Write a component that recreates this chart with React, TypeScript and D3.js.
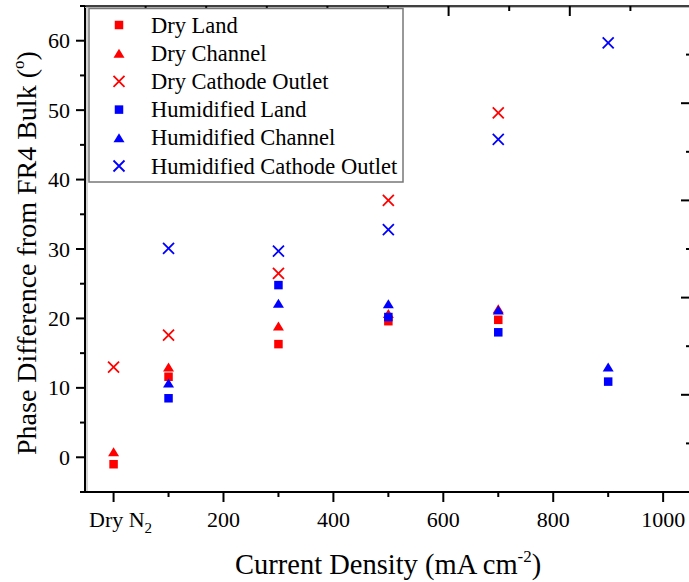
import React from "react";
import * as d3 from "d3";

const dryX = [0, 100, 300, 500, 700];
const humX = [100, 300, 500, 700, 900];
const dryLand = [-1.0, 11.6, 16.3, 19.6, 19.8];
const dryChannel = [0.8, 13.0, 18.9, 20.7, 21.4];
const dryCathode = [13.0, 17.6, 26.5, 37.0, 49.6];
const humLand = [8.5, 24.8, 20.2, 18.0, 10.9];
const humChannel = [10.7, 22.2, 22.1, 21.2, 13.0];
const humCathode = [30.1, 29.7, 32.8, 45.8, 59.7];

const seriesNames = [
  "Dry Land",
  "Dry Channel",
  "Dry Cathode Outlet",
  "Humidified Land",
  "Humidified Channel",
  "Humidified Cathode Outlet",
];
const xMajorTicks = [0, 200, 400, 600, 800, 1000];
const xMinorTicks = [100, 300, 500, 700, 900];
const yMajorTicks = [0, 10, 20, 30, 40, 50, 60];
const yMinorTicks = [-5, 5, 15, 25, 35, 45, 55, 65];

const RED = "#ff0000";
const BLUE = "#0000ff";
const FONT = "'Liberation Serif', 'Times New Roman', serif";

type Shape = "square" | "triangle" | "cross";

const series: { name: string; xs: number[]; ys: number[]; color: string; shape: Shape }[] = [
  { name: seriesNames[0], xs: dryX, ys: dryLand, color: RED, shape: "square" },
  { name: seriesNames[1], xs: dryX, ys: dryChannel, color: RED, shape: "triangle" },
  { name: seriesNames[2], xs: dryX, ys: dryCathode, color: RED, shape: "cross" },
  { name: seriesNames[3], xs: humX, ys: humLand, color: BLUE, shape: "square" },
  { name: seriesNames[4], xs: humX, ys: humChannel, color: BLUE, shape: "triangle" },
  { name: seriesNames[5], xs: humX, ys: humCathode, color: BLUE, shape: "cross" },
];

function Marker({ x, y, shape, color }: { x: number; y: number; shape: Shape; color: string }) {
  if (shape === "square") {
    const s = 8.5;
    return <rect x={x - s / 2} y={y - s / 2} width={s} height={s} fill={color} />;
  }
  if (shape === "triangle") {
    const w = 11, h = 9;
    return (
      <path
        d={`M${x},${y - h / 2}L${x + w / 2},${y + h / 2}L${x - w / 2},${y + h / 2}Z`}
        fill={color}
      />
    );
  }
  const r = 5.5;
  return (
    <path
      d={`M${x - r},${y - r}L${x + r},${y + r}M${x - r},${y + r}L${x + r},${y - r}`}
      stroke={color}
      strokeWidth={1.8}
      fill="none"
    />
  );
}

export default function App() {
  const W = 689, H = 582;
  const left = 85, right = 691, top = 6, bottom = 492;
  const x = d3.scaleLinear().domain([-52, 1050.7]).range([left, right]);
  const y = d3.scaleLinear().domain([-5, 65]).range([bottom, top]);
  const topScale = d3.scaleLinear().domain([0, 1]).range([left, right]);
  const rightScale = d3.scaleLinear().domain([0, 1]).range([bottom, top]);
  const frac = d3.range(1, 10).map((k) => k / 10);

  return (
    <svg
      width={W}
      height={H}
      style={{ position: "absolute", left: 0, top: 0, background: "#fff" }}
      fontFamily={FONT}
    >
      <rect x={0} y={0} width={W} height={H} fill="#fff" />
      {/* frame */}
      <line x1={left} x2={right} y1={bottom} y2={bottom} stroke="#000" strokeWidth={2} />
      <line x1={left} x2={left} y1={top} y2={bottom} stroke="#000" strokeWidth={2} />
      <line x1={left + 2} x2={left + 2} y1={top + 2} y2={bottom - 1} stroke="#aaa" strokeWidth={1} />
      <line x1={left} x2={right} y1={top} y2={top} stroke="#000" strokeWidth={1.5} />
      <line x1={left} x2={right} y1={top + 1.5} y2={top + 1.5} stroke="#bbb" strokeWidth={1} />
      <line x1={right} x2={right} y1={top} y2={bottom} stroke="#000" strokeWidth={2} />

      {/* bottom ticks */}
      {xMajorTicks.map((t) => (
        <line key={"xM" + t} x1={x(t)} x2={x(t)} y1={bottom} y2={bottom + 10} stroke="#000" strokeWidth={2} />
      ))}
      {xMinorTicks.map((t) => (
        <line key={"xm" + t} x1={x(t)} x2={x(t)} y1={bottom} y2={bottom + 5} stroke="#000" strokeWidth={2} />
      ))}
      {xMajorTicks.map((t) =>
        t === 0 ? (
          <text key={"xl" + t} x={89} y={527} textAnchor="start" fontSize={22} fill="#000">
            Dry N<tspan fontSize={15} dy={6}>2</tspan>
          </text>
        ) : (
          <text key={"xl" + t} x={x(t)} y={527} textAnchor="middle" fontSize={22} fill="#000">
            {String(t)}
          </text>
        )
      )}

      {/* left ticks */}
      {yMajorTicks.map((t) => (
        <line key={"yM" + t} x1={left - 9} x2={left} y1={y(t)} y2={y(t)} stroke="#000" strokeWidth={2} />
      ))}
      {yMinorTicks.map((t) => (
        <line key={"ym" + t} x1={left - 5} x2={left} y1={y(t)} y2={y(t)} stroke="#000" strokeWidth={2} />
      ))}
      {yMajorTicks.map((t) => (
        <text key={"yl" + t} x={70} y={y(t) + 7.5} textAnchor="end" fontSize={22} fill="#000">
          {String(t)}
        </text>
      ))}

      {/* top ticks (inward) */}
      {frac.map((f, i) => (
        <line
          key={"tt" + i}
          x1={topScale(f)}
          x2={topScale(f)}
          y1={top}
          y2={top + (i % 2 === 1 ? 10 : 5)}
          stroke="#000"
          strokeWidth={2}
        />
      ))}
      {/* right ticks (inward) */}
      {frac.map((f, i) => (
        <line
          key={"rt" + i}
          x1={right}
          x2={right - (i % 2 === 1 ? 10 : 5)}
          y1={rightScale(f)}
          y2={rightScale(f)}
          stroke="#000"
          strokeWidth={2}
        />
      ))}

      {/* data */}
      {series.map((s) =>
        s.xs.map((xv, i) => (
          <Marker key={s.name + i} x={x(xv)} y={y(s.ys[i])} shape={s.shape} color={s.color} />
        ))
      )}

      {/* legend */}
      <rect x={89} y={8.5} width={314} height={173.5} fill="#fff" stroke="#777" strokeWidth={1.5} />
      {series.map((s, i) => {
        const cy = 25 + i * 28.2;
        return (
          <g key={"lg" + i}>
            <Marker x={119} y={cy} shape={s.shape} color={s.color} />
            <text x={151} y={cy + 7.5} fontSize={22.5} fill="#000">
              {s.name}
            </text>
          </g>
        );
      })}

      {/* axis titles */}
      <text x={235} y={574} textAnchor="start" fontSize={28.5} fill="#000">
        Current Density (mA cm<tspan fontSize={17} dy={-12}>-2</tspan>
        <tspan dy={12}>)</tspan>
      </text>
      <text
        transform={`translate(36,${455}) rotate(-90)`}
        textAnchor="start"
        fontSize={28}
        fill="#000"
      >
        Phase Difference from FR4 Bulk (<tspan fontSize={17} dy={-12}>o</tspan>
        <tspan dy={12}>)</tspan>
      </text>
    </svg>
  );
}
